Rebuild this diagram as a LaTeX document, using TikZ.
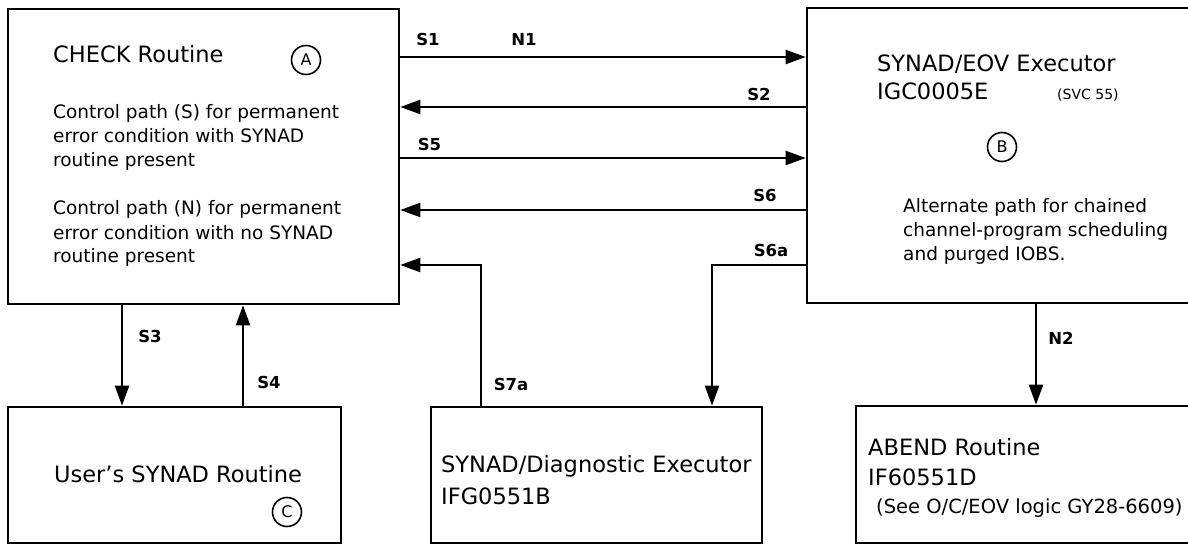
\documentclass[tikz,border=0pt]{standalone}
\usepackage{fontspec}
\setmainfont{DejaVu Sans}
\usetikzlibrary{arrows.meta,positioning}
\tikzset{
  box/.style={
    draw,
    line width=2.6pt,
    inner sep=0pt
  },
  title/.style={
    anchor=base west,
    inner sep=0pt,
    align=left,
    font=\fontsize{22.5}{30}\selectfont
  },
  note/.style={
    anchor=base west,
    inner sep=0pt,
    align=left,
    font=\fontsize{18.5}{24}\selectfont
  },
  tag/.style={
    inner sep=0pt,
    font=\fontsize{16.5}{18}\selectfont\bfseries
  },
  circled/.style={
    draw,
    circle,
    line width=1.6pt,
    minimum size=29pt,
    inner sep=0pt,
    font=\fontsize{16}{16}\selectfont
  },
  flow/.style={line width=2.2pt, -{Triangle[length=20pt,width=14pt]}}
}
\begin{document}
\begin{tikzpicture}[x=1pt,y=1pt]
  \useasboundingbox (0,0) rectangle (1188,-545);
  \clip (0,0) rectangle (1188,-545);

  \node[box, minimum width=391pt, minimum height=295pt] (check) at (203.5,-156.5) {};
  \node[box, minimum width=393pt, minimum height=295pt] (exec) at (1003.5,-155.5) {};
  \node[box, minimum width=333pt, minimum height=136pt] (user) at (174.5,-475) {};
  \node[box, minimum width=331pt, minimum height=136pt] (diag) at (596.5,-475) {};
  \node[box, minimum width=344pt, minimum height=137pt] (abend) at (1028,-474.5) {};

  % box texts (multi-line nodes sit on their last baseline)
  \node[title] (checkname) at (53,-63) {CHECK Routine};
  \node[circled] (ca) at (306,-60) {A};
  \node[note] (spath) at (53,-167) {Control path (S) for permanent\\error condition with SYNAD\\routine present};
  \node[note] (npath) at (53,-263) {Control path (N) for permanent\\error condition with no SYNAD\\routine present};

  \node[title, font=\fontsize{22.5}{28}\selectfont] (execname) at (877,-100) {SYNAD/EOV Executor\\IGC0005E};
  \node[anchor=base west, inner sep=0pt, font=\fontsize{14}{16}\selectfont] (svc) at (1057,-100) {(SVC 55)};
  \node[circled] (cb) at (1002,-147) {B};
  \node[note] (alt) at (903,-261) {Alternate path for chained\\channel-program scheduling\\and purged IOBS.};

  \node[title] (username) at (54,-482) {User’s SYNAD Routine};
  \node[circled] (cc) at (287,-512) {C};

  \node[title, font=\fontsize{22.5}{32}\selectfont] (diagname) at (441,-504) {SYNAD/Diagnostic Executor\\IFG0551B};

  \node[title] (abendname) at (868,-485) {ABEND Routine\\IF60551D};
  \node[note, font=\fontsize{19.5}{24}\selectfont] (see) at (876,-513) {(See O/C/EOV logic GY28-6609)};

  % connector levels
  \coordinate (y1) at (0,-57);
  \coordinate (y2) at (0,-107);
  \coordinate (y5) at (0,-158);
  \coordinate (y6) at (0,-210);
  \coordinate (s6a) at (712,-265);
  \coordinate (s7a) at (481,-265);
  \coordinate (s3) at (122,0);
  \coordinate (s4) at (243,0);
  \coordinate (n2) at (1036,0);

  \draw[flow] (check.east |- y1) -- (exec.west |- y1);
  \draw[flow] (exec.west |- y2) -- (check.east |- y2);
  \draw[flow] (check.east |- y5) -- (exec.west |- y5);
  \draw[flow] (exec.west |- y6) -- (check.east |- y6);
  \draw[flow] (exec.west |- s6a) -| (diag.north -| s6a);
  \draw[flow] (diag.north -| s7a) |- (check.east |- s7a);
  \draw[flow] (check.south -| s3) -- (user.north -| s3);
  \draw[flow] (user.north -| s4) -- (check.south -| s4);
  \draw[flow] (exec.south -| n2) -- (abend.north -| n2);

  % connector labels
  \node[tag] (ls1) at (428,-39) {S1};
  \node[tag] (ln1) at (524,-39) {N1};
  \node[tag] (ls2) at (759,-94) {S2};
  \node[tag] (ls5) at (429.5,-144.5) {S5};
  \node[tag] (ls6) at (765,-195.5) {S6};
  \node[tag] (ls6a) at (771,-250) {S6a};
  \node[tag] (ls7a) at (511,-384) {S7a};
  \node[tag] (ls3) at (150,-336) {S3};
  \node[tag] (ls4) at (269,-382) {S4};
  \node[tag] (ln2) at (1061,-338) {N2};
\end{tikzpicture}
\end{document}
